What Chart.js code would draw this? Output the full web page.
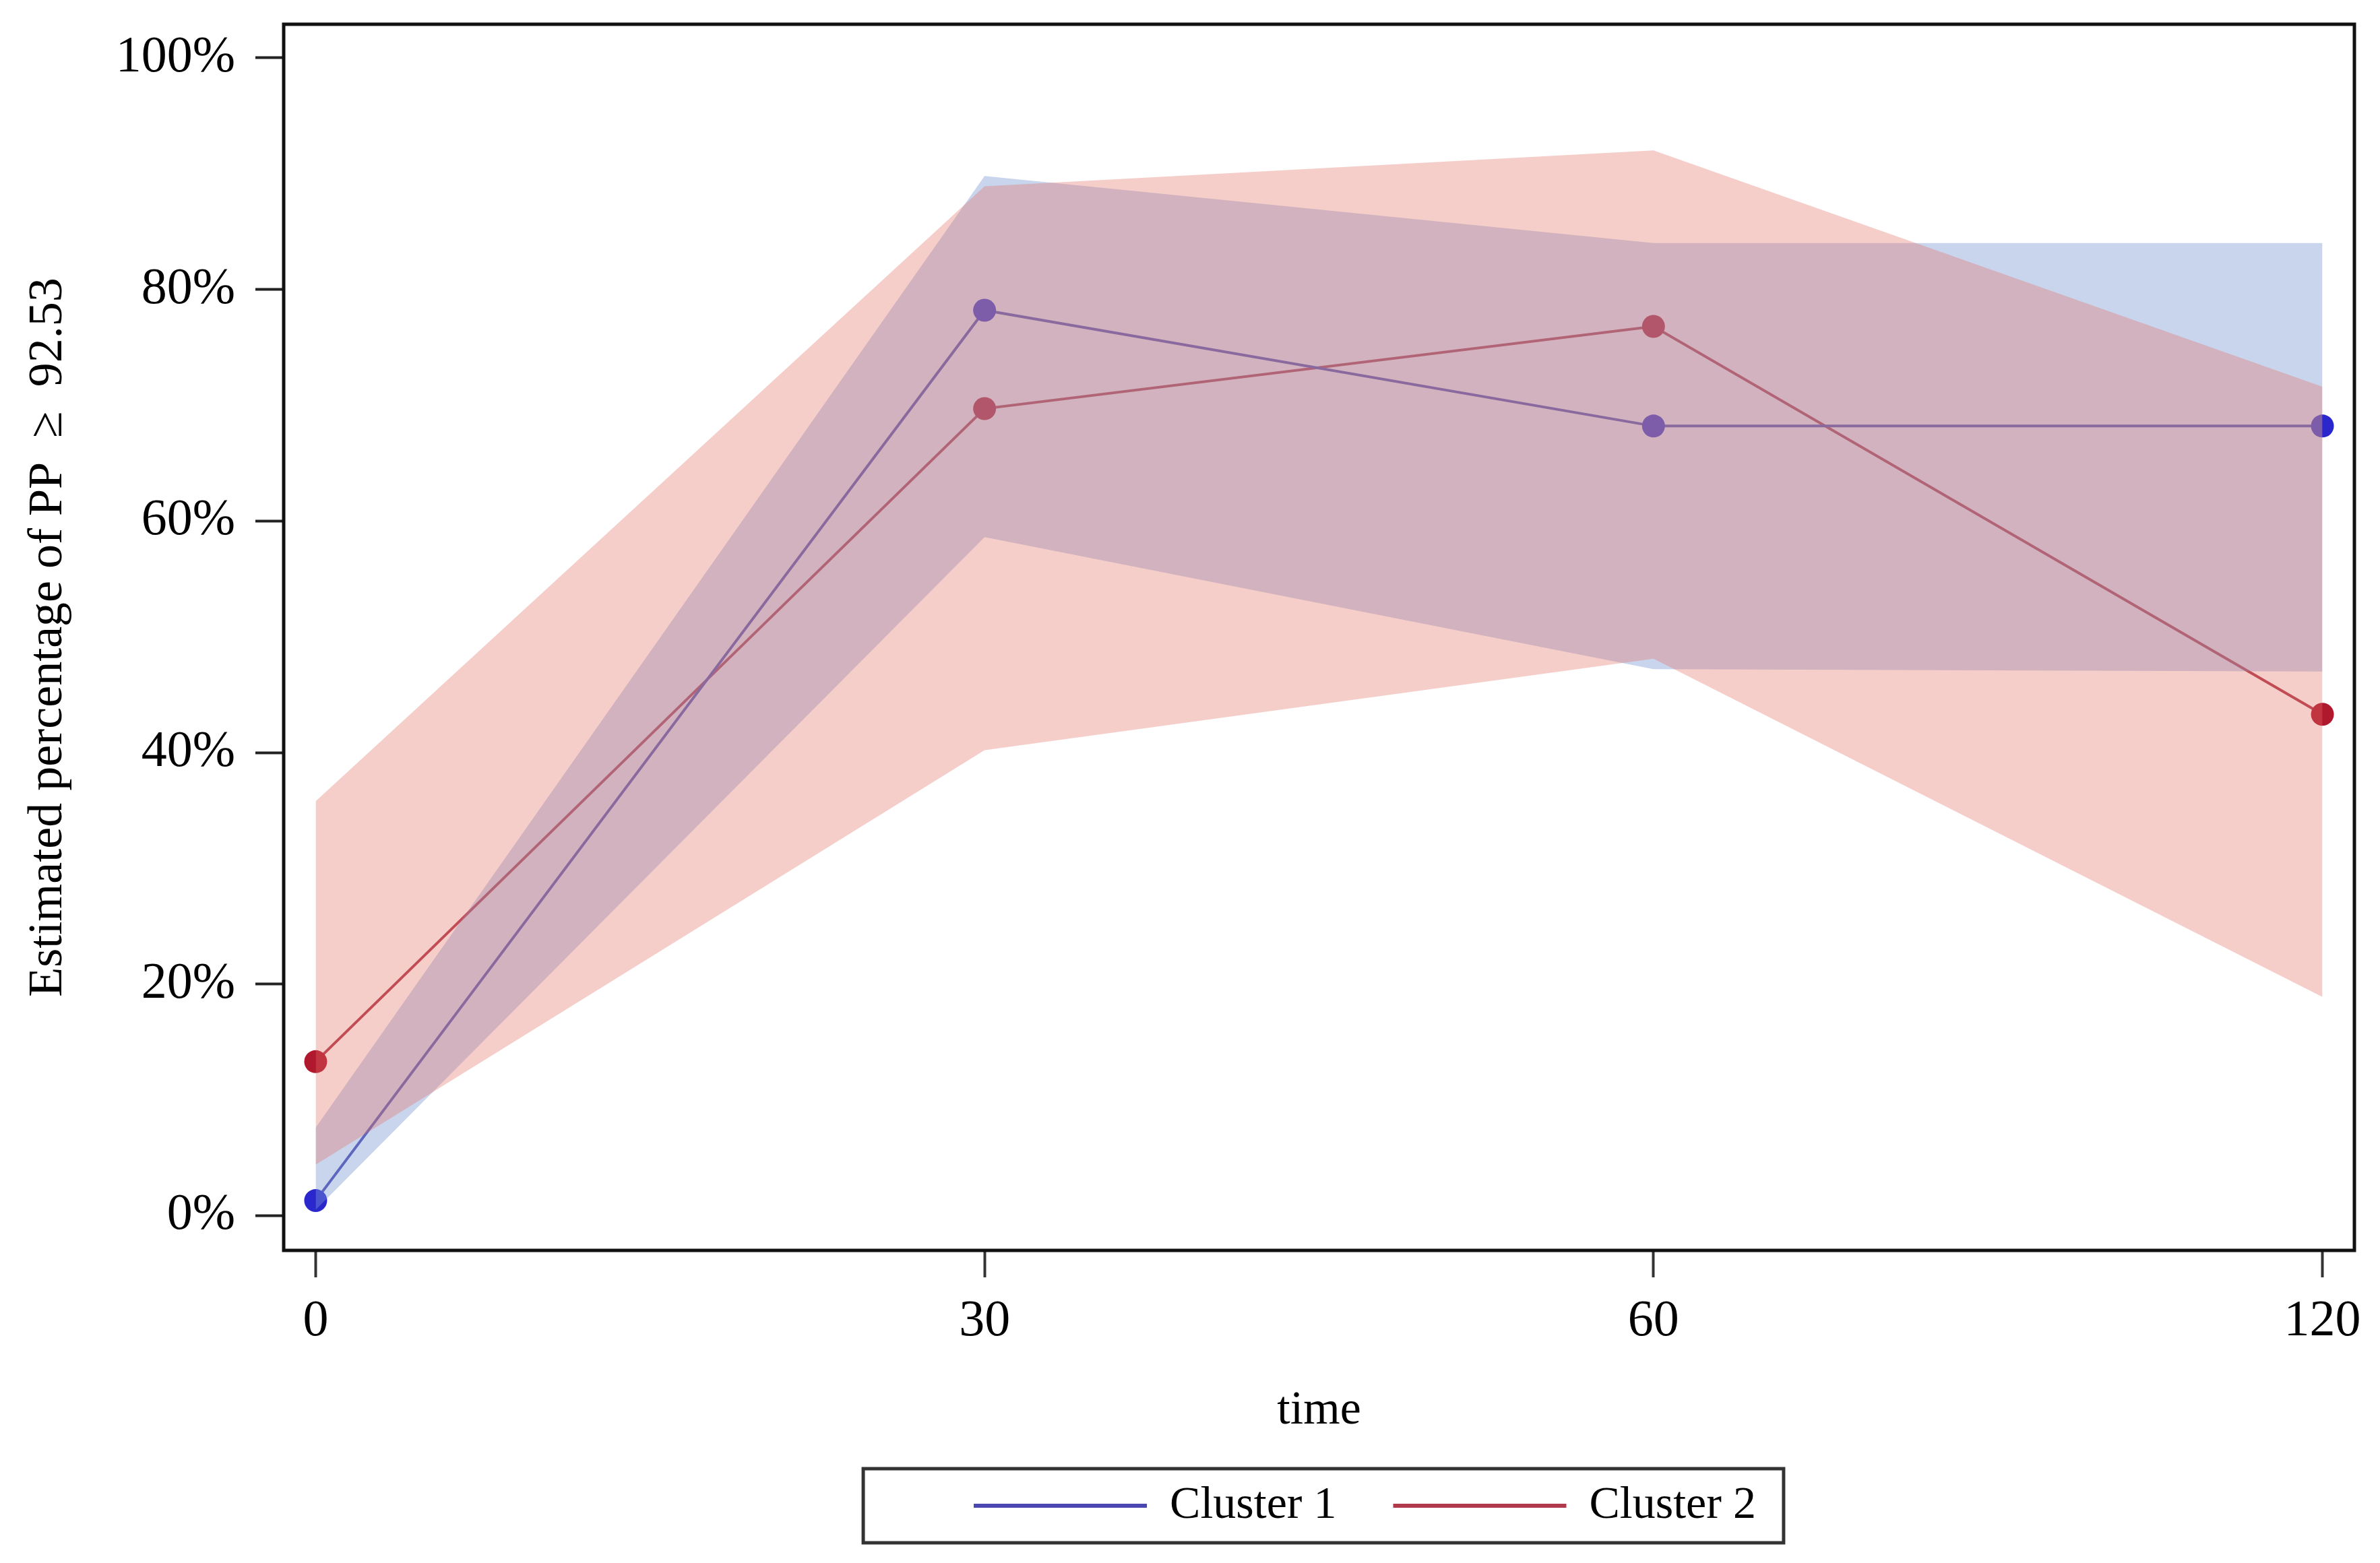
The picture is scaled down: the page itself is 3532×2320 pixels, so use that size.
<!DOCTYPE html>
<html>
<head>
<meta charset="utf-8">
<script src="https://cdn.jsdelivr.net/npm/chart.js@4.4.1/dist/chart.umd.min.js"></script>
<style>
    html, body { margin: 0; padding: 0; background: #ffffff; }
    canvas { display: block; }
</style>
</head>
<body>
<canvas id="myChart" width="3532" height="2320"></canvas>
<script>
// values (percent)
const timeLabels = ['0', '30', '60', '120'];
const yTicks = [0, 20, 40, 60, 80, 100];
const seriesNames = ['Cluster 1', 'Cluster 2'];

const cluster1 = [1.3, 78.2, 68.2, 68.2];
const cluster1Lower = [0.5, 58.6, 47.2, 47.0];
const cluster1Upper = [7.6, 89.8, 84.0, 84.0];

const cluster2 = [13.3, 69.7, 76.8, 43.3];
const cluster2Lower = [4.4, 40.2, 48.1, 18.9];
const cluster2Upper = [35.8, 88.9, 92.0, 71.6];

const lineColors = ['#4a48b0', '#b03a4c'];
const markerColors = ['#2a28cc', '#b0182e'];
const bandColors = ['rgba(120, 150, 210, 0.40)', 'rgba(225, 110, 100, 0.34)'];

const toPoints = arr => arr.map((v, i) => ({ x: i, y: v }));

const serif = "'Liberation Serif', 'Times New Roman', serif";

// frame round the plot, box round the legend
const framePlugin = {
    id: 'frame',
    afterLayout(chart) {
        // legend sits a bit right of the plot centre in the original
        const lg = chart.legend;
        if (lg) {
            lg.left += 68;
            lg.right += 68;
        }
    },
    afterDatasetsDraw(chart) {
        const a = chart.chartArea;
        const c = chart.ctx;
        c.save();
        c.strokeStyle = '#111';
        c.lineWidth = 5;
        c.strokeRect(a.left, a.top, a.right - a.left, a.bottom - a.top);
        c.restore();
    },
    afterDraw(chart) {
        const boxes = chart.legend?.legendHitBoxes;
        if (!boxes || !boxes.length) return;
        const left = Math.min(...boxes.map(b => b.left)) - 164;
        const right = Math.max(...boxes.map(b => b.left + b.width)) + 41;
        const mid = boxes[0].top + boxes[0].height / 2;
        const c = chart.ctx;
        c.save();
        c.strokeStyle = '#333';
        c.lineWidth = 5;
        c.strokeRect(left, mid - 55, right - left, 110);
        c.restore();
    }
};

const ctx = document.getElementById('myChart');

new Chart(ctx, {
    type: 'line',
    data: {
        datasets: [
            {
                label: seriesNames[0],
                data: toPoints(cluster1),
                borderColor: lineColors[0],
                borderWidth: 4,
                pointRadius: 17,
                pointBorderWidth: 0,
                pointBackgroundColor: markerColors[0],
                fill: false,
                order: 2
            },
            {
                label: seriesNames[1],
                data: toPoints(cluster2),
                borderColor: lineColors[1],
                borderWidth: 4,
                pointRadius: 17,
                pointBorderWidth: 0,
                pointBackgroundColor: markerColors[1],
                fill: false,
                order: 2
            },
            {
                label: 'c2 upper',
                data: toPoints(cluster2Upper),
                borderWidth: 0,
                pointRadius: 0,
                backgroundColor: bandColors[1],
                fill: '+1',
                order: 1
            },
            {
                label: 'c2 lower',
                data: toPoints(cluster2Lower),
                borderWidth: 0,
                pointRadius: 0,
                fill: false,
                order: 1
            },
            {
                label: 'c1 upper',
                data: toPoints(cluster1Upper),
                borderWidth: 0,
                pointRadius: 0,
                backgroundColor: bandColors[0],
                fill: '+1',
                order: 1
            },
            {
                label: 'c1 lower',
                data: toPoints(cluster1Lower),
                borderWidth: 0,
                pointRadius: 0,
                fill: false,
                order: 1
            }
        ]
    },
    options: {
        responsive: false,
        devicePixelRatio: 1,
        animation: false,
        layout: {
            padding: { left: 0, right: 38, top: 36, bottom: 41 }
        },
        scales: {
            x: {
                type: 'linear',
                min: -0.0478,
                max: 3.0478,
                afterBuildTicks: scale => {
                    scale.ticks = timeLabels.map((t, i) => ({ value: i }));
                },
                afterFit: scale => {
                    scale.height = 261;
                },
                ticks: {
                    callback: (v, i) => timeLabels[i],
                    color: '#000',
                    padding: 20,
                    maxRotation: 0,
                    font: { family: serif, size: 76 }
                },
                grid: {
                    drawOnChartArea: false,
                    drawTicks: true,
                    tickLength: 40,
                    tickWidth: 4,
                    tickColor: '#333'
                },
                border: { display: false },
                title: {
                    display: true,
                    text: 'time',
                    color: '#000',
                    padding: { top: 0, bottom: 0 },
                    font: { family: serif, size: 70, lineHeight: 0.65 }
                }
            },
            y: {
                min: -3,
                max: 102.9,
                afterBuildTicks: scale => {
                    scale.ticks = yTicks.map(v => ({ value: v }));
                },
                afterFit: scale => {
                    scale.width = 421;
                    scale.paddingTop = 0;
                    scale.paddingBottom = 0;
                },
                ticks: {
                    callback: v => v + '%',
                    color: '#000',
                    padding: 30,
                    font: { family: serif, size: 76 }
                },
                grid: {
                    drawOnChartArea: false,
                    drawTicks: true,
                    tickLength: 42,
                    tickWidth: 4,
                    tickColor: '#222'
                },
                border: { display: false },
                title: {
                    display: true,
                    text: 'Estimated percentage of PP  \u2265  92.53',
                    color: '#000',
                    padding: { top: 29, bottom: 0 },
                    font: { family: serif, size: 72 }
                }
            }
        },
        plugins: {
            legend: {
                position: 'bottom',
                fullSize: false,
                labels: {
                    usePointStyle: true,
                    pointStyleWidth: 257,
                    padding: 84,
                    color: '#000',
                    font: { family: serif, size: 68 },
                    generateLabels: chart => seriesNames.map((name, i) => ({
                        text: name,
                        datasetIndex: i,
                        fillStyle: lineColors[i],
                        strokeStyle: lineColors[i],
                        lineWidth: 6,
                        pointStyle: 'line',
                        hidden: false
                    }))
                }
            },
            tooltip: { enabled: false }
        }
    },
    plugins: [framePlugin]
});
</script>
</body>
</html>
